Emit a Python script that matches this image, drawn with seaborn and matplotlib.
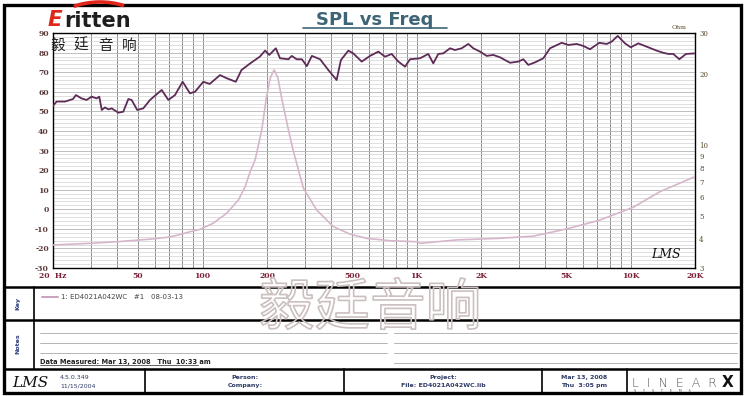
import numpy as np
import matplotlib
matplotlib.use('Agg')
import matplotlib.pyplot as plt
import matplotlib.patheffects as pe
from matplotlib.patches import Arc, Rectangle
from matplotlib.ticker import FixedLocator, NullFormatter
import seaborn as sns

# SPL curve (Hz, dB)
spl_freq = [20, 20.8, 22.8, 24.8, 25.6, 27.2, 28.7, 30.3, 32, 32.9, 33.8, 35, 36.3, 37.6,
            40.4, 42.6, 45, 46.6, 49.5, 52.8, 56.8, 64.4, 69.2, 74.3, 80.7, 87.3, 92.2,
            100.8, 108, 120.6, 129.6, 143, 152, 167, 185, 196, 205, 220, 230, 252, 261,
            275, 291, 307, 324, 354, 387, 423, 443, 480, 506, 554, 606, 639, 663, 712,
            765, 822, 883, 932, 1038, 1134, 1197, 1263, 1333, 1433, 1512, 1625, 1745,
            1841, 1978, 2126, 2282, 2454, 2733, 2988, 3154, 3327, 3576, 3910, 4202, 4767,
            5117, 5601, 6012, 6462, 7143, 7734, 8161, 8708, 9420, 10015, 10866, 12100,
            13244, 14221, 15008, 15836, 16896, 18155, 20000]
spl_db = [52.8, 55, 55, 56.3, 58.3, 56.6, 55.8, 57.5, 56.6, 57.5, 50.7, 52, 51, 51.5,
          49.3, 49.8, 56.3, 55.8, 50.7, 51.5, 55.8, 60.9, 55.8, 58.3, 65.1, 59.2, 60,
          65.1, 64, 68.5, 66.9, 65.1, 71.1, 74.5, 77.9, 81, 78.8, 82.2, 77.1, 76.6, 78.3,
          76.6, 76.6, 73.1, 78.3, 76.6, 71.1, 66, 76.2, 81, 79.6, 75.4, 78.3, 79.6, 80.5, 77.9,
          79.3, 75.4, 72.8, 76.6, 77.1, 79.3, 74.5, 79.3, 79.6, 82.2, 81.3, 82.2, 84.4,
          82.2, 80.5, 78.3, 78.8, 77.6, 74.8, 75.4, 76.6, 73.7, 75.0, 77.1, 82.2, 85,
          83.9, 84.4, 83.4, 81.7, 85, 84.4, 85.6, 88.5, 84.7, 82.7, 84.7, 82.7,
          81, 79.9, 79.3, 79.3, 76.6, 79.3, 79.6]

# impedance curve (Hz, Ohm)
imp_freq = [20, 29.8, 39.7, 56.8, 68, 75.7, 87.3, 97.3, 112, 129.6, 147, 158, 167, 176,
            189, 198, 207, 216, 225, 235, 252, 265, 296, 341, 408, 489, 585, 751, 1001,
            1038, 1539, 2410, 3512, 5030, 7196, 10296, 13722, 20000]
imp_ohm = [3.76, 3.82, 3.88, 3.98, 4.05, 4.13, 4.28, 4.38, 4.65, 5.13, 5.84, 6.65, 7.71, 8.65,
           11.6, 15.6, 19.3, 20.9, 19.3, 15.6, 11.6, 9.5, 6.55, 5.3, 4.5, 4.18, 4.01, 3.92, 3.88,
           3.82, 3.95, 4.01, 4.10, 4.40, 4.80, 5.44, 6.34, 7.34]

x_ticks = [20, 50, 100, 200, 500, 1000, 2000, 5000, 10000, 20000]
x_labels = ['20  Hz', '50', '100', '200', '500', '1K', '2K', '5K', '10K', '20K']
x_grid = [m * 10 ** d for d in range(1, 5) for m in range(1, 10) if 20 <= m * 10 ** d <= 20000]
db_ticks = list(range(-30, 91, 10))
ohm_ticks = [3, 4, 5, 6, 7, 8, 9, 10, 20, 30]

key_text = '1: ED4021A042WC   #1   08-03-13'
measured = 'Data Measured: Mar 13, 2008   Thu  10:33 am'

sns.set_style('white')
plt.rcParams['font.family'] = ['DejaVu Sans', 'Noto Sans CJK SC']

W, H = 750, 396
fig = plt.figure(figsize=(7.5, 3.96), dpi=100)

# page layer in pixel coordinates
bg = fig.add_axes([0, 0, 1, 1], zorder=0)
bg.set_xlim(0, W)
bg.set_ylim(H, 0)
bg.axis('off')

# outer frame and panel boxes
bg.add_patch(Rectangle((4, 5), 737, 388, fill=False, lw=2.4, ec='black'))
for yy in [287, 320, 369]:
    bg.plot([4, 741], [yy, yy], color='black', lw=1.8)
bg.plot([34, 34], [287, 369], color='black', lw=1.2)
for xx in [145, 344, 542, 627]:
    bg.plot([xx, xx], [369, 393], color='black', lw=1.2)

# logo
bg.add_patch(Arc((100, 40), 112, 76, theta1=232, theta2=305, color='#e0261a', lw=2.6))
bg.text(48, 26, 'E', color='#e0261a', fontsize=15.5, fontweight='bold', fontstyle='italic')
bg.text(64, 27, 'ritten', color='#1e1e1e', fontsize=15, fontweight='bold')

# title
bg.text(375, 25, 'SPL vs Freq', color='#3e6576', fontsize=13, fontweight='bold', ha='center')
bg.plot([303, 447], [28, 28], color='#3e6576', lw=1.2)

# key / notes panels
bg.text(18, 303, 'Key', rotation=90, fontsize=4.5, color='#2b3d7a', ha='center', va='center', fontweight='bold')
bg.text(18, 344, 'Notes', rotation=90, fontsize=4.5, color='#2b3d7a', ha='center', va='center', fontweight='bold')
bg.plot([42, 58], [297, 297], color='#c9a2bd', lw=1.4)
bg.text(61, 297, key_text, fontsize=5, color='#444444', va='center')
for yy in [333, 343, 353]:
    bg.plot([40, 387], [yy, yy], color='#a8a8a8', lw=0.6)
for yy in [333, 343, 353, 363]:
    bg.plot([394, 737], [yy, yy], color='#a8a8a8', lw=0.6)
bg.text(40, 364, measured, fontsize=4.8, color='#222222', fontweight='bold')
bg.plot([40, 198], [365, 365], color='#222222', lw=0.5)

# footer
foot = '#2e3a66'
bg.text(12, 387, 'LMS', fontsize=11, fontstyle='italic', color='#111111', family='DejaVu Serif')
bg.text(60, 379, '4.5.0.349', fontsize=4.5, color=foot)
bg.text(60, 387, '11/15/2004', fontsize=4.5, color=foot)
bg.text(245, 379, 'Person:', fontsize=4.5, color=foot, ha='center', fontweight='bold')
bg.text(245, 387, 'Company:', fontsize=4.5, color=foot, ha='center', fontweight='bold')
bg.text(443, 379, 'Project:', fontsize=4.5, color=foot, ha='center', fontweight='bold')
bg.text(443, 387, 'File: ED4021A042WC.lib', fontsize=4.5, color=foot, ha='center', fontweight='bold')
bg.text(584, 379, 'Mar 13, 2008', fontsize=4.5, color=foot, ha='center', fontweight='bold')
bg.text(584, 387, 'Thu  3:05 pm', fontsize=4.5, color=foot, ha='center', fontweight='bold')
bg.text(632, 387, 'L  I  N  E  A  R', fontsize=9, color='#555555', fontweight='light')
bg.text(722, 387, 'X', fontsize=11, color='#111111', fontweight='bold')
bg.text(634, 392, 'S      Y      S      T      E      M      S', fontsize=2.5, color='#555555')

# main chart
ax = fig.add_axes([53 / W, 1 - 268 / H, 642 / W, 235 / H], zorder=2)
ax.set_facecolor('white')
sns.lineplot(x=spl_freq, y=spl_db, ax=ax, color='#5e2b58', lw=1.3, zorder=5)
ax.set_xscale('log')
ax.set_xlim(20, 20000)
ax.set_ylim(-30, 90)
ax.xaxis.set_major_locator(FixedLocator(x_ticks))
ax.xaxis.set_minor_locator(FixedLocator(x_grid))
ax.xaxis.set_minor_formatter(NullFormatter())
ax.set_xticklabels(x_labels)
ax.yaxis.set_major_locator(FixedLocator(db_ticks))
ax.yaxis.set_minor_locator(FixedLocator(list(range(-30, 91, 2))))
ax.set_yticklabels([str(t) for t in db_ticks])
ax.grid(which='minor', axis='y', color='#d2d2d2', lw=0.5)
ax.grid(which='major', axis='y', color='#b4b4b4', lw=0.6)
ax.grid(which='both', axis='x', color='#8e8e8e', lw=0.7)
ax.set_axisbelow(True)
ax.tick_params(which='both', length=0)
ax.tick_params(axis='x', labelsize=5.5, labelcolor='#7a1f35', pad=3)
ax.tick_params(axis='y', labelsize=5.5, labelcolor='#5a3a3a', pad=3)
for lab in ax.get_xticklabels() + ax.get_yticklabels():
    lab.set_fontweight('bold')
    lab.set_family('DejaVu Serif')
for sp in ax.spines.values():
    sp.set_color('black')
    sp.set_linewidth(1.0)
ax.set_xlabel('')
ax.set_ylabel('')

ax2 = ax.twinx()
ax2.set_zorder(3)
ax2.patch.set_visible(False)
sns.lineplot(x=imp_freq, y=imp_ohm, ax=ax2, color='#d6b6cb', lw=1.2)
ax2.set_yscale('log')
ax2.set_ylim(3, 30)
ax2.yaxis.set_major_locator(FixedLocator(ohm_ticks))
ax2.yaxis.set_minor_locator(FixedLocator([]))
ax2.set_yticklabels([str(t) for t in ohm_ticks])
ax2.tick_params(which='both', length=0, labelsize=5, labelcolor='#5a4a2a', pad=3)
for lab in ax2.get_yticklabels():
    lab.set_family('DejaVu Serif')
ax2.set_ylabel('')
for sp in ax2.spines.values():
    sp.set_visible(False)
ax2.text(0.975, 1.012, 'Ohm', transform=ax2.transAxes, fontsize=4.5, color='#5a4a2a',
         ha='center', va='bottom', family='DejaVu Serif')
ax2.text(0.955, 0.03, 'LMS', transform=ax2.transAxes, fontsize=9, fontstyle='italic',
         color='#111111', ha='center', va='bottom', family='DejaVu Serif')

# logo characters sit on top of the chart
for i, ch in enumerate('毅廷音响'):
    fig.text((50 + i * 24) / W, 1 - 50 / H, ch, color='#222222', fontsize=10.5,
             family=['Noto Sans CJK SC', 'DejaVu Sans'], zorder=10)

# outlined watermark
fig.text(370 / W, 1 - 309 / H, '毅廷音响', fontsize=40, color=(1, 1, 1, 0),
         ha='center', va='center', family=['Noto Sans CJK SC', 'DejaVu Sans'], zorder=10,
         path_effects=[pe.withStroke(linewidth=1.2, foreground='#cbbfbf')])

fig.savefig('out.png', dpi=100)
